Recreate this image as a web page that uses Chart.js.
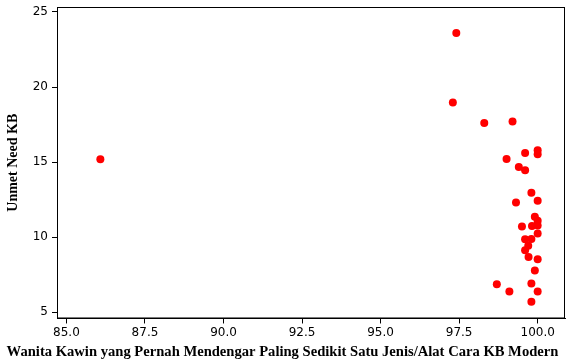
<!DOCTYPE html>
<html>
<head>
<meta charset="utf-8">
<script src="https://cdn.jsdelivr.net/npm/chart.js@4"></script>
<style>
  html, body { margin: 0; padding: 0; background: #fff; }
  #wrap { width: 576px; height: 363px; position: relative; }
</style>
</head>
<body>
<div id="wrap"><canvas id="scatterChart"></canvas></div>
<script>
// x: Wanita kawin yang pernah mendengar KB modern (%), y: Unmet need KB (%)
const xValues = [86.08, 97.41, 97.30, 98.30, 99.20, 99.01, 99.60, 100.0, 100.0, 99.40, 99.60,
                 99.80, 100.0, 99.31, 99.91, 100.0, 99.50, 99.82, 100.0, 100.0, 99.60, 99.80,
                 99.70, 99.60, 99.71, 100.0, 99.91, 98.70, 99.80, 99.10, 100.0, 99.80];
const yValues = [15.19, 23.60, 18.97, 17.61, 17.70, 15.21, 15.61, 15.79, 15.52, 14.67, 14.45,
                 12.96, 12.43, 12.30, 11.36, 11.09, 10.70, 10.74, 10.78, 10.24, 9.85, 9.87,
                 9.42, 9.13, 8.67, 8.52, 7.78, 6.86, 6.91, 6.38, 6.38, 5.69];
const xTicks = [85, 87.5, 90, 92.5, 95, 97.5, 100];
const yTicks = [5, 10, 15, 20, 25];

const xTitle = 'Wanita Kawin yang Pernah Mendengar Paling Sedikit Satu Jenis/Alat Cara KB Modern';
const yTitle = 'Unmet Need KB';

// draw box round the plot area
const frame = {
    id: 'frame',
    afterDraw(chart) {
        const a = chart.chartArea, ctx = chart.ctx;
        ctx.save();
        ctx.strokeStyle = '#000';
        ctx.lineWidth = 1;
        ctx.strokeRect(a.left + 0.5, a.top + 0.5, a.right - a.left - 1, a.bottom - a.top - 1);
        ctx.restore();
    }
};

const tickFont = { family: 'DejaVu Sans', size: 12 };
const titleFont = { family: 'Liberation Serif', size: 14, weight: 'bold' };

new Chart(document.getElementById('scatterChart').getContext('2d'), {
    type: 'scatter',
    data: {
        datasets: [{
            data: xValues.map((x, i) => ({ x: x, y: yValues[i] })),
            backgroundColor: '#ff0000',
            borderWidth: 0,
            pointRadius: 4,
            pointHoverRadius: 4
        }]
    },
    options: {
        responsive: true,
        maintainAspectRatio: false,
        animation: false,
        layout: { padding: { top: 7, right: 11, left: 0, bottom: 0 } },
        plugins: {
            legend: { display: false },
            tooltip: { enabled: false },
            // x axis title drawn as a bottom title so it centres on the whole canvas
            title: {
                display: true,
                position: 'bottom',
                text: xTitle,
                color: '#000',
                font: { family: 'Liberation Serif', size: 14.6, weight: 'bold' },
                padding: { top: 0, bottom: 2 }
            }
        },
        scales: {
            x: {
                type: 'linear',
                min: 84.7,
                max: 100.87,
                afterBuildTicks: s => { s.ticks = xTicks.map(v => ({ value: v })); },
                afterFit: s => { s.height = 25; },
                grid: { display: true, drawOnChartArea: false, drawTicks: true, tickLength: 5, color: '#000' },
                border: { display: true, color: '#000' },
                ticks: {
                    color: '#000', font: tickFont, padding: 2, maxRotation: 0,
                    callback: v => v.toFixed(1)
                }
            },
            y: {
                type: 'linear',
                min: 4.58,
                max: 25.33,
                afterBuildTicks: s => { s.ticks = yTicks.map(v => ({ value: v })); },
                afterFit: s => { s.width = 57; s.paddingTop = 0; s.paddingBottom = 0; },
                grid: { display: true, drawOnChartArea: false, drawTicks: true, tickLength: 5, color: '#000' },
                border: { display: true, color: '#000' },
                ticks: { color: '#000', font: tickFont, padding: 4 },
                title: { display: true, text: yTitle, color: '#000', font: titleFont, padding: { top: 5, bottom: 0 } }
            }
        }
    },
    plugins: [frame]
});
</script>
</body>
</html>
